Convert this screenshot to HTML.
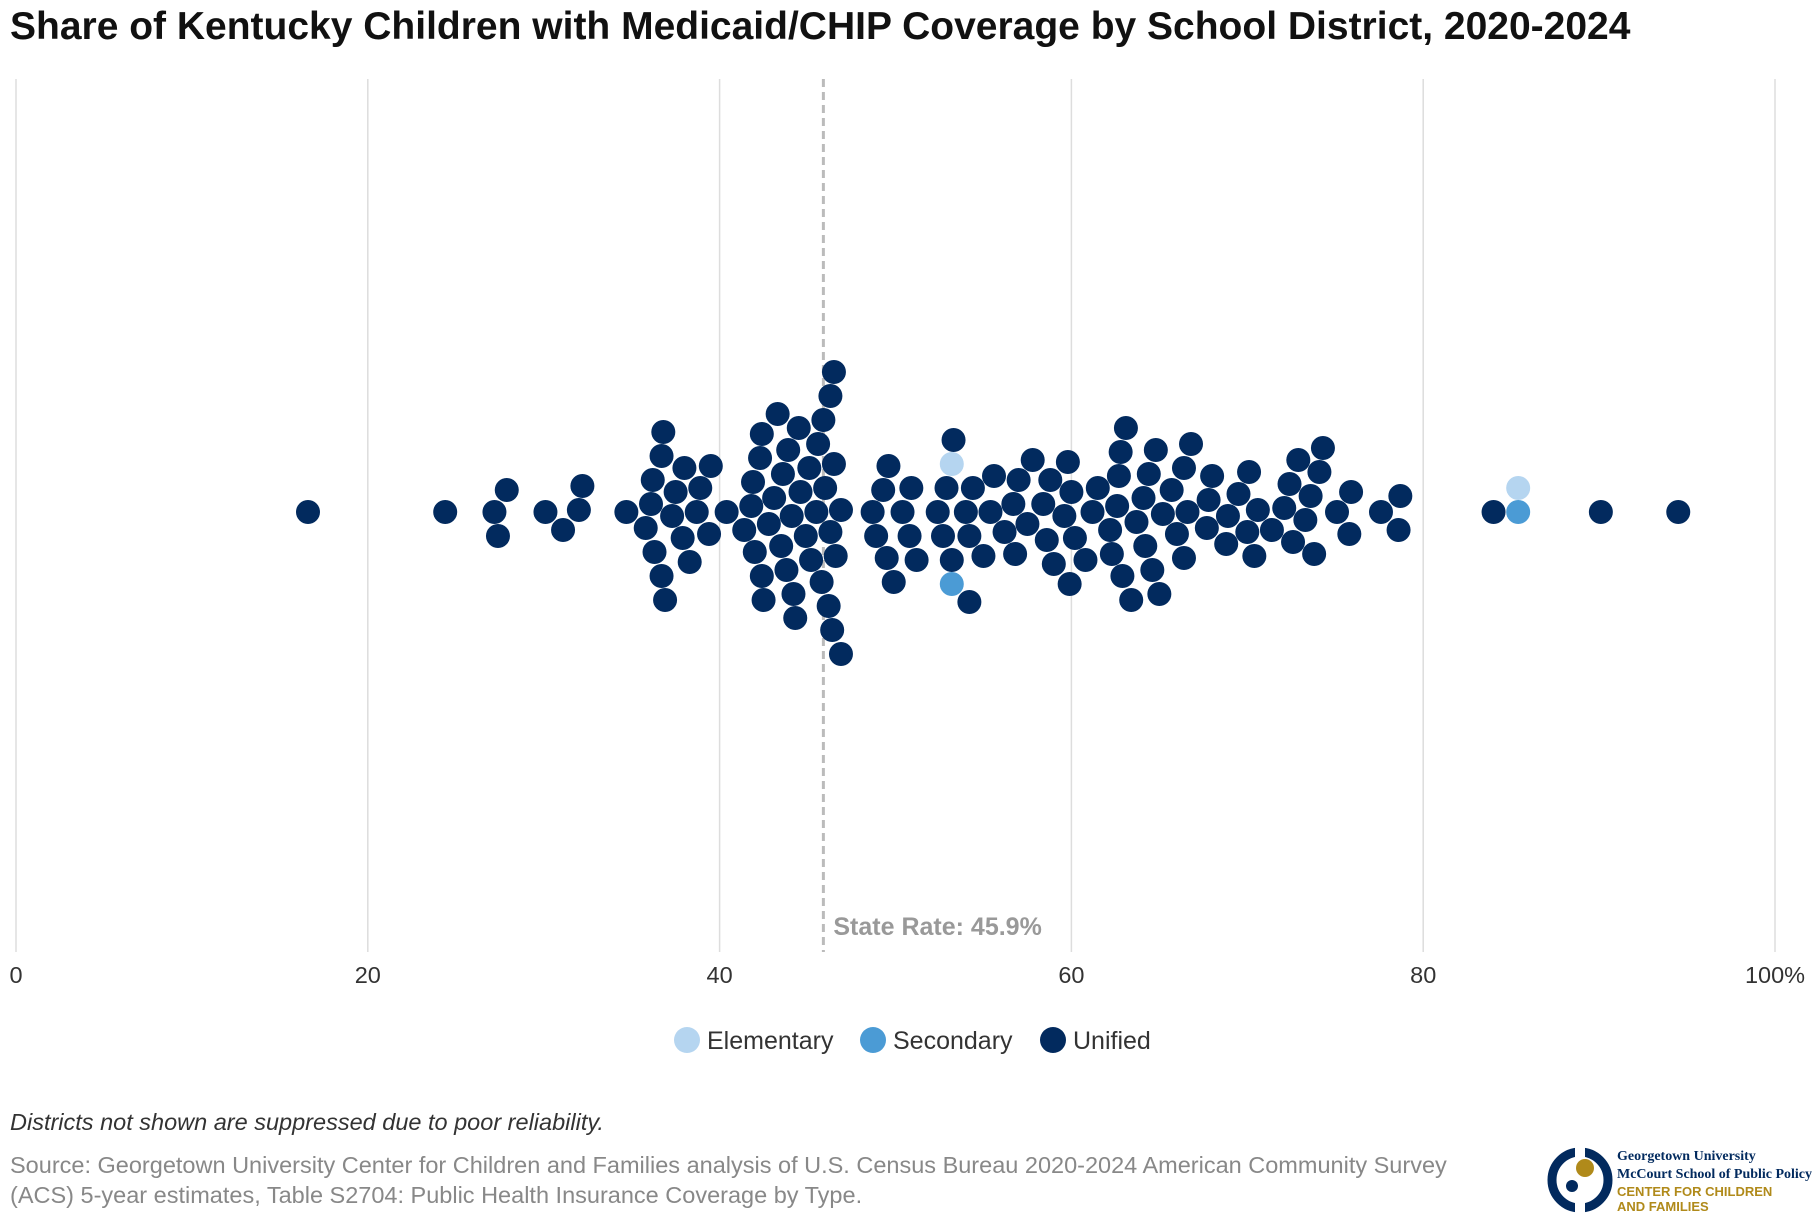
<!DOCTYPE html>
<html><head><meta charset="utf-8"><style>
body{margin:0;background:#fff;font-family:"Liberation Sans",sans-serif;}
#wrap{position:relative;width:1820px;height:1220px;overflow:hidden;}
</style></head><body>
<div id="wrap">
<svg id="chart" width="1820" height="1220">
<text x="10" y="39" font-size="39" font-weight="bold" fill="#111">Share of Kentucky Children with Medicaid/CHIP Coverage by School District, 2020-2024</text>
<g id="grid"></g>
<g id="dots"></g>
<g>
<circle cx="687" cy="1040" r="13" fill="#b5d5f0"/>
<text x="707" y="1049" font-size="25" fill="#333">Elementary</text>
<circle cx="873" cy="1040" r="13" fill="#4b9bd5"/>
<text x="893" y="1049" font-size="25" fill="#333">Secondary</text>
<circle cx="1053" cy="1040" r="13" fill="#022a5e"/>
<text x="1073" y="1049" font-size="25" fill="#333">Unified</text>
</g>
<text x="10" y="1130" font-size="23.5" font-style="italic" fill="#333">Districts not shown are suppressed due to poor reliability.</text>
<text x="10" y="1173" font-size="23.5" fill="#888">Source: Georgetown University Center for Children and Families analysis of U.S. Census Bureau 2020-2024 American Community Survey</text>
<text x="10" y="1203" font-size="23.5" fill="#888">(ACS) 5-year estimates, Table S2704: Public Health Insurance Coverage by Type.</text>
<g>
<circle cx="1580" cy="1180" r="28" fill="none" stroke="#022a5e" stroke-width="9"/>
<rect x="1575" y="1145" width="10" height="70" fill="#fff"/>
<circle cx="1585" cy="1168" r="9" fill="#b08a1a"/>
<circle cx="1572" cy="1186" r="6" fill="#022a5e"/>
<text x="1617" y="1160" font-size="14" font-family="Liberation Serif,serif" font-weight="bold" fill="#022a5e">Georgetown University</text>
<text x="1617" y="1178" font-size="14" font-family="Liberation Serif,serif" font-weight="bold" fill="#022a5e" textLength="195">McCourt School of Public Policy</text>
<text x="1617" y="1196" font-size="13" font-weight="bold" fill="#b08a1a">CENTER FOR CHILDREN</text>
<text x="1617" y="1211" font-size="13" font-weight="bold" fill="#b08a1a">AND FAMILIES</text>
</g>
</svg>
</div>
<script>
const tickValues=[0,20,40,60,80,100];
const tickLabels=["0","20","40","60","80","100%"];
const stateRate=45.9;
const unifiedValues=[16.6,24.4,27.2,27.4,27.9,30.1,31.1,32.0,32.2,34.7,35.8,36.1,36.2,36.3,36.7,36.8,36.7,36.9,37.3,37.5,37.9,38.0,38.3,38.7,38.9,39.4,39.5,40.4,41.4,41.8,41.9,42.0,42.3,42.4,42.4,42.5,42.8,43.1,43.3,43.5,43.6,43.8,43.9,44.1,44.2,44.3,44.5,44.6,44.9,45.1,45.2,45.5,45.6,45.8,45.9,46.0,46.2,46.3,46.3,46.4,46.5,46.5,46.6,46.9,46.9,48.7,48.9,49.3,49.5,49.6,49.9,50.4,50.8,50.9,51.2,52.4,52.7,52.9,53.2,53.3,54.0,54.2,54.2,54.4,55.0,55.4,55.6,56.2,56.7,56.8,57.0,57.5,57.8,58.4,58.6,58.8,59.0,59.6,59.8,59.9,60.0,60.2,60.8,61.2,61.5,62.2,62.3,62.6,62.7,62.8,62.9,63.1,63.4,63.7,64.1,64.2,64.4,64.6,64.8,65.0,65.2,65.7,66.0,66.4,66.4,66.6,66.8,67.7,67.8,68.0,68.8,68.9,69.5,70.0,70.1,70.4,70.6,71.4,72.1,72.4,72.6,72.9,73.3,73.6,73.8,74.1,74.3,75.1,75.8,75.9,77.6,78.6,78.7,84.0,90.1,94.5];
const elementaryValues=[53.2,85.4];
const secondaryValues=[53.2,85.4];

const X0=16,X1=1775,CY=512,R=12;
const xs=v=>X0+(X1-X0)*v/100;
const NS="http://www.w3.org/2000/svg";
function mk(t,a){const e=document.createElementNS(NS,t);for(const k in a)e.setAttribute(k,a[k]);return e;}
const grid=document.getElementById('grid');
tickValues.forEach((v,i)=>{
  const l=mk('line',{x1:xs(v),x2:xs(v),y1:79,y2:952,stroke:'#ddd','stroke-width':1.5});
  
  
  grid.appendChild(l);
  const t=mk('text',{x:xs(v),y:983,'font-size':23.5,fill:'#333','text-anchor':'middle'});
  t.textContent=tickLabels[i];
  
  
  grid.appendChild(t);
});
const sl=mk('line',{x1:xs(stateRate),x2:xs(stateRate),y1:79,y2:952,stroke:'#bbb','stroke-width':3,'stroke-dasharray':'8,5'});


grid.appendChild(sl);
const st=mk('text',{x:xs(stateRate)+10,y:935,'font-size':25,'font-weight':'bold',fill:'#999'});
st.textContent='State Rate: '+stateRate+'%';


grid.appendChild(st);

const pts=[];
unifiedValues.forEach(v=>pts.push({v,c:'#022a5e',n:'unified'}));
secondaryValues.forEach(v=>pts.push({v,c:'#4b9bd5',n:'secondary',dir:1}));
elementaryValues.forEach(v=>pts.push({v,c:'#b5d5f0',n:'elementary',dir:-1}));
pts.sort((a,b)=>a.v-b.v);
const placed=[];const D=2*R;
pts.forEach(p=>{
  const x=xs(p.v);let y=CY;
  for(let k=0;k<400;k++){
    const cy=p.dir?CY+p.dir*k*2:CY+(k%2?1:-1)*Math.ceil(k/2)*2;
    if(placed.every(q=>(q.x-x)**2+(q.y-cy)**2>=D*D)){y=cy;break;}
  }
  placed.push({x,y});p.x=x;p.y=y;
});
const dots=document.getElementById('dots');
pts.forEach(p=>{
  const c=mk('circle',{cx:p.x,cy:p.y,r:R,fill:p.c});
  
  
  dots.appendChild(c);
});
</script>
</body></html>
